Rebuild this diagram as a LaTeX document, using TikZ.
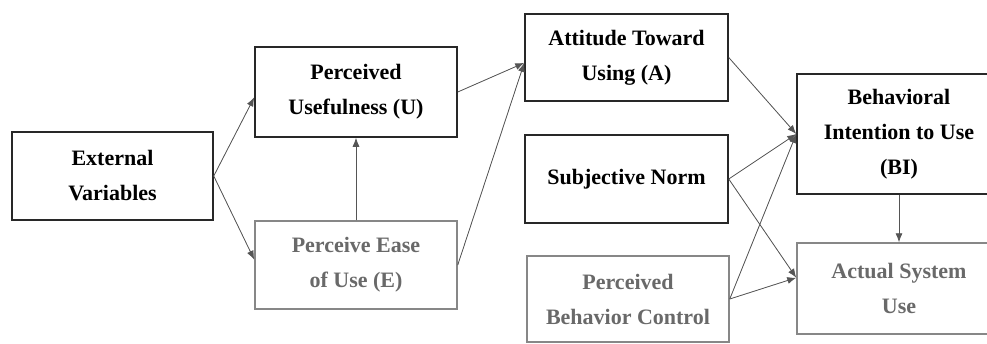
\documentclass[tikz,border=0pt]{standalone}
\usepackage{fontspec}
\setmainfont{Liberation Serif}
\usepackage{tikz}
\usetikzlibrary{arrows.meta,positioning}
\definecolor{tamdark}{RGB}{40,40,40}
\definecolor{tamfade}{RGB}{105,105,105}
\definecolor{tamline}{RGB}{85,85,85}
\tikzset{
  tambox/.style={draw=tamdark, line width=1.5pt, fill=white, minimum width=202pt, minimum height=88pt,
    inner sep=0pt, align=center, text=black, font=\fontsize{22}{35}\selectfont\bfseries},
  tamfaded/.style={tambox, draw=tamfade!80, text=tamfade},
  tamarrow/.style={-{Latex[length=9pt,width=7pt]}, draw=tamline, fill=tamline, line width=0.8pt}
}

\begin{document}
\begin{tikzpicture}[x=1pt, y=-1pt]
  \useasboundingbox (0,0) rectangle (987,343);

  %--- TAM part ---
  \node[tambox, minimum width=201pt] (ext) at (112.5,176) {External\\Variables};
  \node[tambox, minimum height=90pt] (pu) at (356,92) {Perceived\\Usefulness (U)};
  \node[tamfaded] (pe) at (356,265) {Perceive Ease\\of Use (E)};
  \node[tambox, minimum width=203pt, minimum height=87pt] (att) at (626.5,57.5) {Attitude Toward\\Using (A)};

  %--- TPB part ---
  \node[tambox, minimum width=203pt] (sn) at (626.5,179) {Subjective Norm};
  \node[tamfaded, minimum height=86pt] (pbc) at (628,299) {Perceived\\Behavior Control};

  %--- Outcomes ---
  \node[tambox, minimum width=204pt, minimum height=120pt] (bi) at (899,134) {Behavioral\\Intention to Use\\(BI)};
  \node[tamfaded, minimum width=204pt, minimum height=91pt] (asu) at (899,288.5) {Actual System\\Use};

  % Arrows
  \draw[tamarrow] (ext.east) -- (pu.183);
  \draw[tamarrow] (ext.east) -- (pe.177);
  \draw[tamarrow] (pe.north) -- (pu.south);
  \draw[tamarrow] (pu.east) -- (att.183);
  \draw[tamarrow] (pe.east) -- (att.183);
  \draw[tamarrow] (att.east) -- (bi.west);
  \draw[tamarrow] (sn.east) -- (bi.west);
  \draw[tamarrow] (sn.east) -- (asu.174);
  \draw[tamarrow] (pbc.east) -- (bi.west);
  \draw[tamarrow] (pbc.east) -- (asu.174);
  \draw[tamarrow] (bi.south) -- (asu.north);
\end{tikzpicture}
\end{document}
